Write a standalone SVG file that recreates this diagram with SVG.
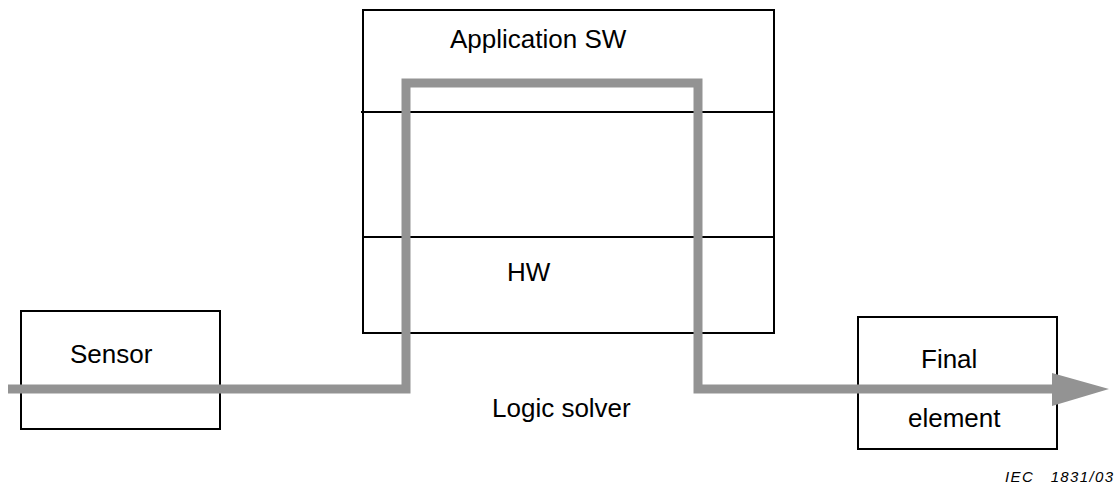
<svg xmlns="http://www.w3.org/2000/svg" width="1116" height="487" viewBox="0 0 1116 487">
  <style>
    .box { fill: #ffffff; stroke: #000000; stroke-width: 2; }
    .sep { fill: none; stroke: #000000; stroke-width: 2; }
    .lbl { font-family: "Liberation Sans", Arial, sans-serif; font-size: 26px; fill: #000000; }
    .flow { fill: none; stroke: #939393; stroke-width: 9; stroke-linejoin: miter; stroke-linecap: butt; }
    .tag { font-family: "Liberation Sans", Arial, sans-serif; font-size: 15px; font-style: italic; fill: #000000; }
  </style>

  <g id="logic-solver">
    <rect class="box" x="363" y="10" width="411" height="323"/>
    <line class="sep" x1="361" y1="112" x2="774" y2="112"/>
    <line class="sep" x1="363" y1="237" x2="774" y2="237"/>
    <text class="lbl" x="450" y="48">Application SW</text>
    <text class="lbl" x="507" y="281">HW</text>
    <text class="lbl" x="492" y="417">Logic solver</text>
  </g>

  <g id="sensor">
    <rect class="box" x="21" y="311" width="199" height="118"/>
    <text class="lbl" x="70" y="363">Sensor</text>
  </g>

  <g id="final-element">
    <rect class="box" x="858" y="317" width="199" height="132"/>
    <text class="lbl" x="921" y="368">Final</text>
    <text class="lbl" x="908" y="427">element</text>
  </g>

  <g id="connectors">
    <path class="flow" d="M8 389 H406 V83 H698 V389 H1054"/>
    <polygon points="1052,373 1109,389 1052,406" fill="#939393"/>
  </g>

  <text class="tag" x="1005" y="482" textLength="108" lengthAdjust="spacing" xml:space="preserve">IEC   1831/03</text>
</svg>
